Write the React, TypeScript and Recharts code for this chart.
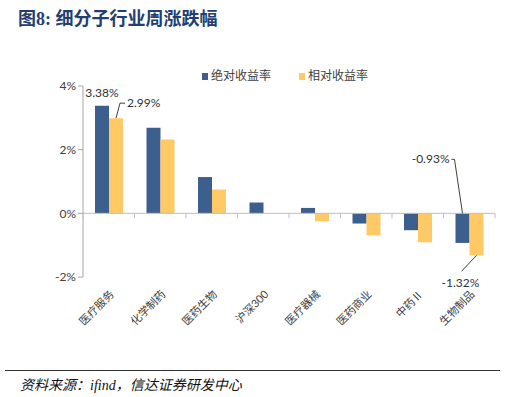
import { BarChart, Bar, XAxis, YAxis, ReferenceLine, LabelList } from 'recharts'

const categories = ['医疗服务', '化学制药', '医药生物', '沪深300', '医疗器械', '医药商业', '中药Ⅱ', '生物制品']
const absReturn = [3.38, 2.69, 1.14, 0.34, 0.17, -0.32, -0.53, -0.93]
const relReturn = [2.99, 2.32, 0.75, 0, -0.25, -0.69, -0.91, -1.32]
const yTicks = [-2, 0, 2, 4]

const data = categories.map((name, i) => ({ name, abs: absReturn[i], rel: relReturn[i] }))

const W = 505
const H = 397
const margin = { top: 86, right: 10, bottom: 56, left: 43 }
const X_AXIS_H = 64
const plotTop = margin.top
const plotH = H - margin.top - margin.bottom - X_AXIS_H
const plotW = W - margin.left - margin.right - 40
const step = plotW / categories.length
const zeroY = plotTop + (plotH * 4) / 6

const BLUE = '#3D5F8D'
const YELLOW = '#FFC966'
const FONT = 'Lato, "Noto Sans CJK SC", sans-serif'

const XTick = (props: any) => {
  const { x, y, payload, index } = props
  const left = x - step / 2
  return (
    <g>
      <line x1={left} x2={left} y1={zeroY} y2={zeroY + 5} stroke="#bfbfbf" />
      {index === categories.length - 1 && (
        <line x1={left + step} x2={left + step} y1={zeroY} y2={zeroY + 5} stroke="#bfbfbf" />
      )}
      <text
        transform={`translate(${x + 6},${y + 10}) rotate(-45)`}
        textAnchor="end"
        fontSize={11}
        fill="#404040"
        fontFamily={FONT}
      >
        {payload.value}
      </text>
    </g>
  )
}

const AbsLabel = (props: any) => {
  const { x, y, width, height, value } = props
  const cx = x + width / 2
  if (value === absReturn[0]) {
    return (
      <text x={cx} y={y - 9} textAnchor="middle" fontSize={12} fill="#333" fontFamily={FONT}>
        {value.toFixed(2)}%
      </text>
    )
  }
  if (value === absReturn[absReturn.length - 1]) {
    const bottom = y + height
    return (
      <g>
        <polyline points={`${cx},${bottom} ${cx - 8},${bottom - 54} ${cx - 11},${bottom - 54}`} fill="none" stroke="#404040" />
        <text x={cx - 13} y={bottom - 50} textAnchor="end" fontSize={12} fill="#333" fontFamily={FONT}>
          {value.toFixed(2)}%
        </text>
      </g>
    )
  }
  return null
}

const RelLabel = (props: any) => {
  const { x, y, width, height, value } = props
  const cx = x + width / 2
  if (value === relReturn[0]) {
    return (
      <g>
        <polyline points={`${cx},${y} ${cx + 4},${y - 15} ${cx + 9},${y - 15}`} fill="none" stroke="#404040" />
        <text x={cx + 11} y={y - 11} textAnchor="start" fontSize={12} fill="#333" fontFamily={FONT}>
          {value.toFixed(2)}%
        </text>
      </g>
    )
  }
  if (value === relReturn[relReturn.length - 1]) {
    const bottom = Math.max(y, y + height)
    return (
      <g>
        <line x1={cx} y1={bottom} x2={cx - 15} y2={bottom + 16} stroke="#404040" />
        <text x={cx - 16} y={bottom + 32} textAnchor="middle" fontSize={12} fill="#333" fontFamily={FONT}>
          {value.toFixed(2)}%
        </text>
      </g>
    )
  }
  return null
}

const LegendBox = () => (
  <div
    style={{
      position: 'absolute',
      left: 202,
      top: 66,
      display: 'flex',
      fontFamily: FONT,
      fontSize: 12,
      color: '#404040',
    }}
  >
    <span style={{ display: 'flex', alignItems: 'center', marginRight: 28 }}>
      <span style={{ width: 6, height: 7, background: BLUE, marginRight: 3, marginTop: 3 }} />
      绝对收益率
    </span>
    <span style={{ display: 'flex', alignItems: 'center' }}>
      <span style={{ width: 6, height: 7, background: YELLOW, marginRight: 3, marginTop: 3 }} />
      相对收益率
    </span>
  </div>
)

export default function App() {
  return (
    <div style={{ position: 'absolute', left: 0, top: 0, width: W, height: H, background: '#fff' }}>
      <div
        style={{
          position: 'absolute',
          left: 18,
          top: 4,
          fontFamily: '"Liberation Serif", "Noto Sans CJK SC", serif',
          fontWeight: 'bold',
          fontSize: 18,
          color: '#233E70',
        }}
      >
        图8: 细分子行业周涨跌幅
      </div>
      <BarChart width={W} height={H} data={data} margin={margin} barGap={0}>
        <XAxis
          dataKey="name"
          height={X_AXIS_H}
          axisLine={false}
          tickLine={false}
          interval={0}
          tick={<XTick />}
        />
        <YAxis
          width={40}
          domain={[-2, 4]}
          ticks={yTicks}
          tickFormatter={(v: number) => `${v}%`}
          axisLine={{ stroke: '#a6a6a6' }}
          tickLine={{ stroke: '#a6a6a6' }}
          tickSize={5}
          tick={{ fontSize: 12, fill: '#404040', fontFamily: FONT }}
        />
        <ReferenceLine y={0} stroke="#bfbfbf" strokeWidth={1} />
        <Bar dataKey="abs" name="绝对收益率" fill={BLUE} barSize={14} isAnimationActive={false}>
          <LabelList dataKey="abs" content={<AbsLabel />} />
        </Bar>
        <Bar dataKey="rel" name="相对收益率" fill={YELLOW} barSize={14} isAnimationActive={false}>
          <LabelList dataKey="rel" content={<RelLabel />} />
        </Bar>
      </BarChart>
      <LegendBox />
      <div style={{ position: 'absolute', left: 5, right: 5, top: 370, borderTop: '1px solid #333' }} />
      <div
        style={{
          position: 'absolute',
          left: 20,
          top: 374,
          fontFamily: '"Liberation Serif", "Noto Sans CJK SC", serif',
          fontStyle: 'italic',
          fontSize: 14,
          color: '#111',
        }}
      >
        资料来源：ifind，信达证券研发中心
      </div>
    </div>
  )
}
